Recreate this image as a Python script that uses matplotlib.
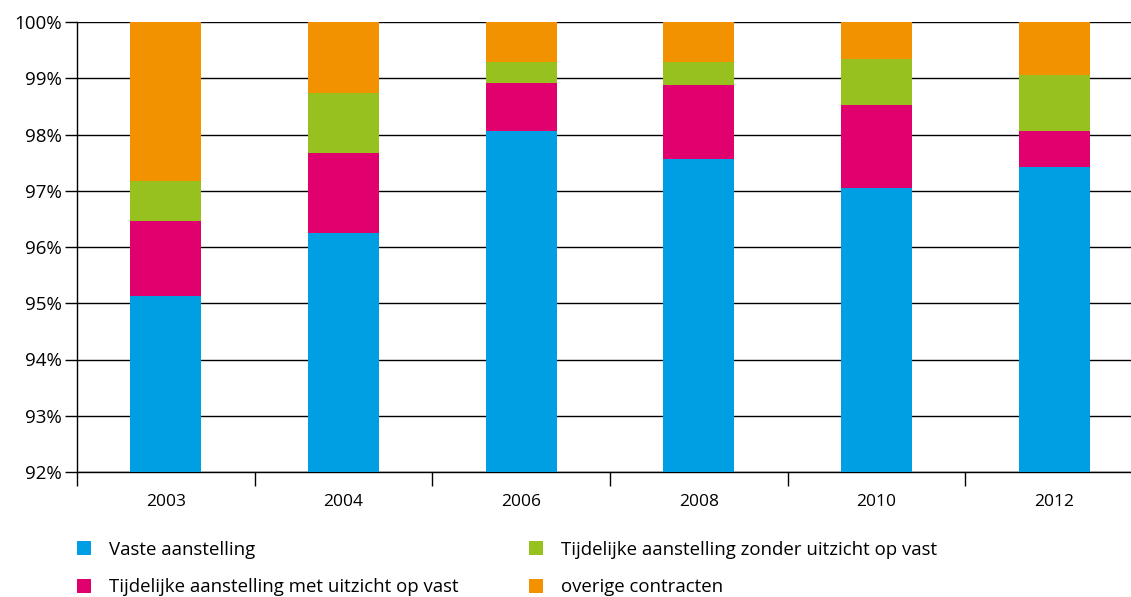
#!/usr/bin/env python3
import numpy as np
import matplotlib
matplotlib.use("Agg")
import matplotlib.pyplot as plt

plt.rcParams.update({
    "font.family": ["Open Sans", "DejaVu Sans"],
    "font.size": 12,
})

years = ["2003", "2004", "2006", "2008", "2010", "2012"]
vast = [95.13, 96.25, 98.06, 97.56, 97.05, 97.42]
met_uitzicht = [1.33, 1.42, 0.86, 1.32, 1.47, 0.64]
zonder_uitzicht = [0.71, 1.07, 0.37, 0.41, 0.82, 1.00]
overig = [2.83, 1.26, 0.71, 0.71, 0.66, 0.94]
labels = ["Vaste aanstelling",
          "Tijdelijke aanstelling met uitzicht op vast",
          "Tijdelijke aanstelling zonder uitzicht op vast",
          "overige contracten"]
colors = ["#009fe3", "#e0006e", "#96c11f", "#f39200"]

fig = plt.figure(figsize=(11.31, 5.97), dpi=100)
ax = fig.add_axes([77/1131, 125/597, 1066/1131, 450/597])

x = np.arange(len(years))
series = [vast, met_uitzicht, zonder_uitzicht, overig]
bottom = None
handles = []
for vals, c, lab in zip(series, colors, labels):
    vals = np.array(vals)
    # first series starts from the axis floor
    if bottom is None:
        h = ax.bar(x, vals - 92, bottom=92, width=0.4, color=c, label=lab, zorder=3)
        bottom = vals.copy()
    else:
        h = ax.bar(x, vals, bottom=bottom, width=0.4, color=c, label=lab, zorder=3)
        bottom = bottom + vals
    handles.append(h)

ax.set_ylim(92, 100)
ax.set_xlim(-0.5, len(years) - 0.5)
ax.set_yticks(np.arange(92, 101, 1))
ax.set_yticklabels([f"{v}%" for v in range(92, 101)])
ax.yaxis.grid(True, color="black", linewidth=1.0, zorder=0)
ax.set_axisbelow(True)

ax.set_xticks(x)
ax.set_xticklabels(years)
ax.tick_params(axis="x", length=0, pad=16, labelsize=12.5)
ax.set_xticks(np.arange(-0.5, len(years), 1), minor=True)
ax.tick_params(axis="x", which="minor", length=10, width=1, color="black")
ax.tick_params(axis="y", length=9, width=1, pad=2, labelsize=13.5)

for s in ["top", "right"]:
    ax.spines[s].set_visible(False)
ax.spines["left"].set_linewidth(1.0)
ax.spines["bottom"].set_linewidth(1.0)

fig.legend(handles=handles, loc="upper left", bbox_to_anchor=(60/1131, 1 - 524/597),
           ncol=2, frameon=False, fontsize=13.4, handlelength=0.75, handleheight=0.75,
           handletextpad=1.0, columnspacing=3.75, labelspacing=1.05)

fig.savefig("out.png", dpi=100)
